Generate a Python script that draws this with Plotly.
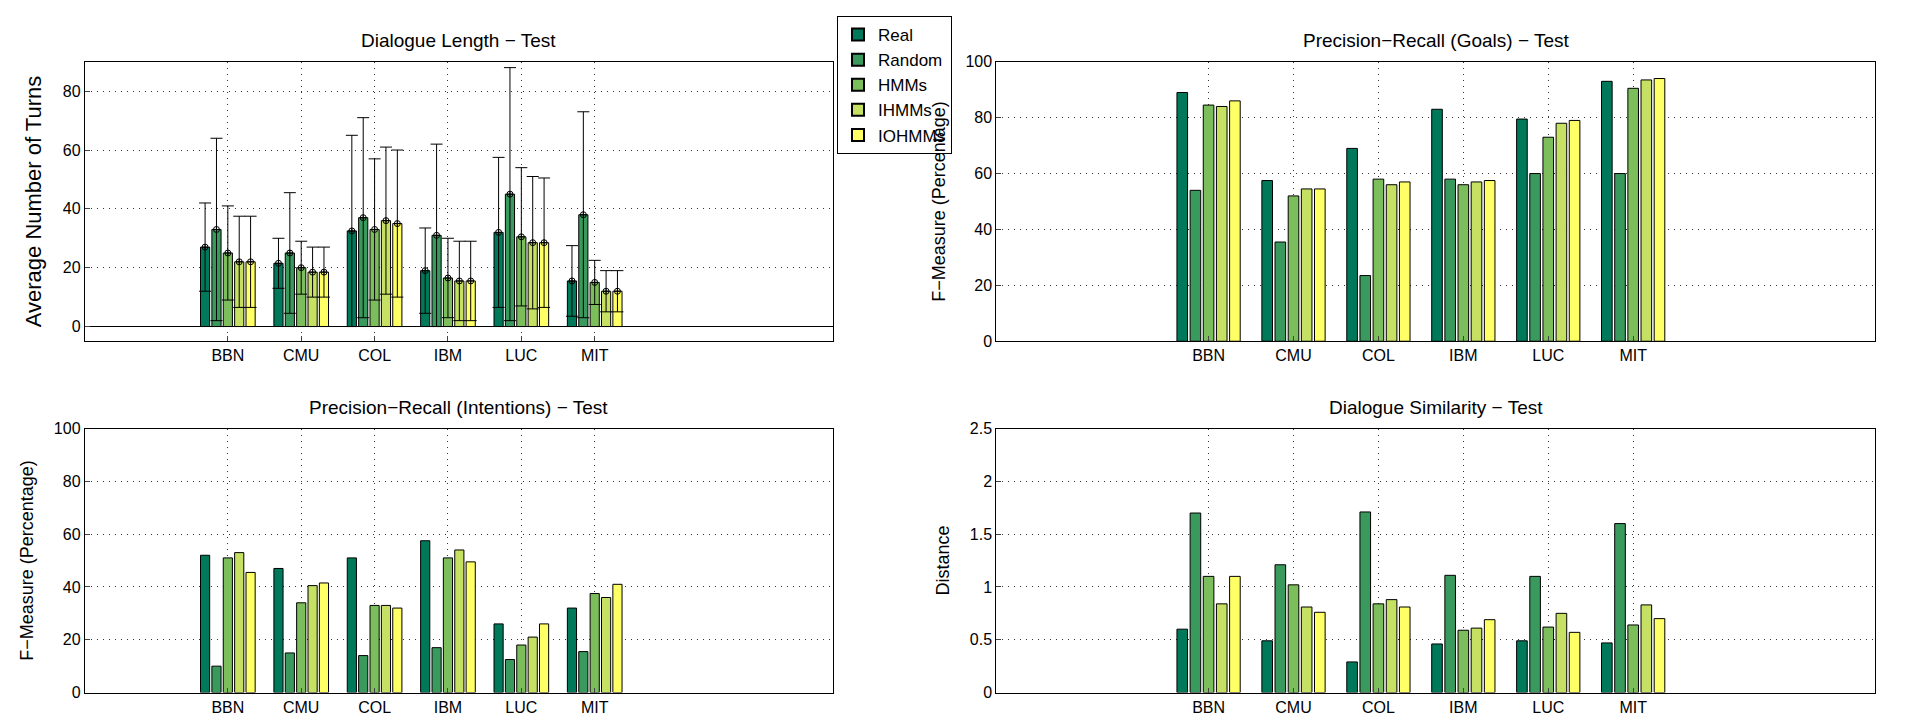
import plotly.graph_objects as go

sites = ["BBN", "CMU", "COL", "IBM", "LUC", "MIT"]
models = ["Real", "Random", "HMMs", "IHMMs", "IOHMMs"]
colors = ["#00795A", "#3A9A5E", "#7DBE5C", "#C5E062", "#FFFF66"]

# Dialogue length (mean, std) per model, per site
len_mean = {
    "Real":   [27, 21.5, 32.5, 19, 32, 15.5],
    "Random": [33, 25, 37, 31, 45, 38],
    "HMMs":   [25, 20, 33, 16.5, 30.5, 15],
    "IHMMs":  [22, 18.5, 36, 15.5, 28.5, 12],
    "IOHMMs": [22, 18.5, 35, 15.5, 28.5, 12],
}
len_std = {
    "Real":   [15, 8.5, 32.5, 14.5, 25.5, 12],
    "Random": [31, 20.5, 34, 31, 43, 35],
    "HMMs":   [16, 9, 24, 13.5, 23.5, 7.5],
    "IHMMs":  [15.5, 8.5, 25, 13.5, 22.5, 7],
    "IOHMMs": [15.5, 8.5, 25, 13.5, 22, 7],
}
goals = {
    "Real":   [89, 57.5, 69, 83, 79.5, 93],
    "Random": [54, 35.5, 23.5, 58, 60, 60],
    "HMMs":   [84.5, 52, 58, 56, 73, 90.5],
    "IHMMs":  [84, 54.5, 56, 57, 78, 93.5],
    "IOHMMs": [86, 54.5, 57, 57.5, 79, 94],
}
intentions = {
    "Real":   [52, 47, 51, 57.5, 26, 32],
    "Random": [10, 15, 14, 17, 12.5, 15.5],
    "HMMs":   [51, 34, 33, 51, 18, 37.5],
    "IHMMs":  [53, 40.5, 33, 54, 21, 36],
    "IOHMMs": [45.5, 41.5, 32, 49.5, 26, 41],
}
similarity = {
    "Real":   [0.60, 0.49, 0.29, 0.46, 0.49, 0.47],
    "Random": [1.70, 1.21, 1.71, 1.11, 1.10, 1.60],
    "HMMs":   [1.10, 1.02, 0.84, 0.59, 0.62, 0.64],
    "IHMMs":  [0.84, 0.81, 0.88, 0.61, 0.75, 0.83],
    "IOHMMs": [1.10, 0.76, 0.81, 0.69, 0.57, 0.70],
}
sim_ticks = [0, 0.5, 1, 1.5, 2, 2.5]
sim_ticktext = ["0", "0.5", "1", "1.5", "2", "2.5"]

FONT = "Liberation Sans"
fig = go.Figure()
idx = list(range(1, len(sites) + 1))

def xs(k):
    return [i + (k - 2) * 0.155 for i in idx]

panels = [
    ("x", "y", len_mean, len_std),
    ("x2", "y2", goals, None),
    ("x3", "y3", intentions, None),
    ("x4", "y4", similarity, None),
]
for p, (xa, ya, data, err) in enumerate(panels):
    for k, m in enumerate(models):
        fig.add_trace(go.Bar(
            x=xs(k), y=data[m], width=0.125, name=m, showlegend=(p == 0),
            marker=dict(color=colors[k], line=dict(color="black", width=1)),
            error_y=dict(type="data", array=err[m], color="black", thickness=1, width=6) if err else None,
            xaxis=xa, yaxis=ya))
        if err:
            fig.add_trace(go.Scatter(
                x=xs(k), y=data[m], mode="markers", showlegend=False, hoverinfo="skip",
                marker=dict(symbol="circle-cross-open", size=6, color="black", line=dict(width=1)),
                xaxis=xa, yaxis=ya))

ax_common = dict(showline=True, linecolor="black", linewidth=1, mirror=True, ticks="inside",
                 showgrid=True, gridcolor="#333", griddash="1px,5px", gridwidth=1,
                 tickfont=dict(size=16, color="black", family=FONT), zeroline=False)
xcommon = dict(ax_common, tickmode="array", tickvals=idx, ticktext=sites)

titles = ["Dialogue Length − Test", "Precision−Recall (Goals) − Test",
          "Precision−Recall (Intentions) − Test", "Dialogue Similarity − Test"]
domx = [[0.040, 0.430], [0.515, 0.973], [0.040, 0.430], [0.515, 0.973]]
domy = [[0.538, 0.935], [0.538, 0.935], [0.039, 0.414], [0.039, 0.414]]
xr = [[-0.95, 9.25], [-1.5, 8.85], [-0.95, 9.25], [-1.5, 8.85]]

layout = dict(
    barmode="overlay", paper_bgcolor="white", plot_bgcolor="white",
    font=dict(family=FONT, color="black"),
    margin=dict(l=0, r=0, t=0, b=0), width=1919, height=721,
    legend=dict(x=0.432, y=1.0, xanchor="left", yanchor="top", bordercolor="black",
                borderwidth=1, bgcolor="white", font=dict(size=17, family=FONT),
                itemsizing="constant", tracegroupgap=0),
)
for i in range(4):
    s = "" if i == 0 else str(i + 1)
    layout["xaxis" + s] = dict(xcommon, domain=domx[i], range=xr[i], anchor="y" + s)
    layout["yaxis" + s] = dict(ax_common, domain=domy[i], anchor="x" + s)

layout["yaxis"].update(range=[-5, 90], tickvals=[0, 20, 40, 60, 80], zeroline=True,
                       zerolinecolor="black", zerolinewidth=1,
                       title=dict(text="Average Number of Turns", font=dict(size=22)))
layout["yaxis2"].update(range=[0, 100], dtick=20,
                        title=dict(text="F−Measure (Percentage)", font=dict(size=18)))
layout["yaxis3"].update(range=[0, 100], dtick=20,
                        title=dict(text="F−Measure (Percentage)", font=dict(size=18)))
layout["yaxis4"].update(range=[0, 2.5], tickmode="array", tickvals=sim_ticks, ticktext=sim_ticktext,
                        title=dict(text="Distance", font=dict(size=18)))

ann = []
for i in range(4):
    ann.append(dict(text=titles[i], xref="paper", yref="paper",
                    x=(domx[i][0] + domx[i][1]) / 2, y=domy[i][1] + 0.012,
                    xanchor="center", yanchor="bottom", showarrow=False,
                    font=dict(size=19, family=FONT, color="black")))
layout["annotations"] = ann
fig.update_layout(**layout)
fig.write_html("out.html")
